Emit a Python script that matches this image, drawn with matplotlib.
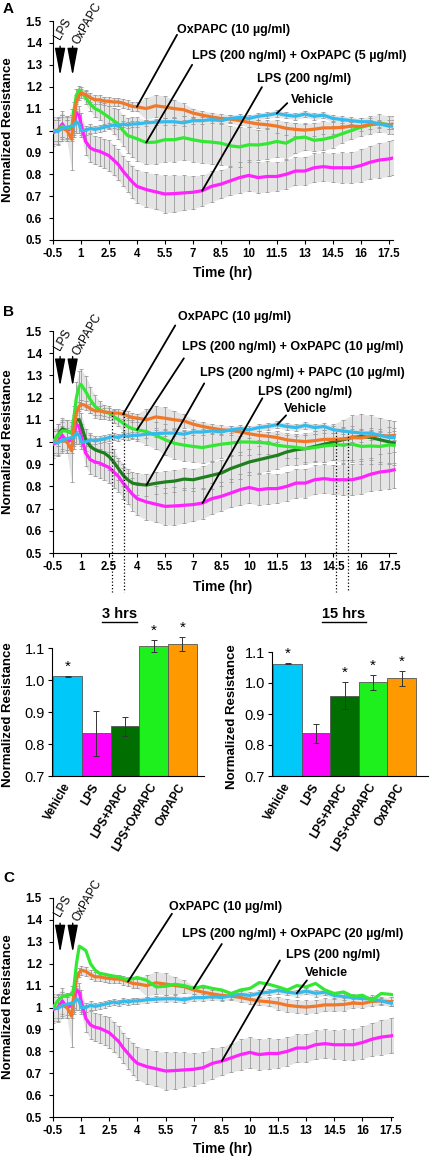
import numpy as np
import matplotlib.pyplot as plt
from matplotlib.patches import ConnectionPatch
from matplotlib.lines import Line2D

plt.rcParams['font.family'] = ['Liberation Sans', 'DejaVu Sans']

# time course (hours after start)
time_hr = [-0.5, -0.25, 0, 0.25, 0.5, 0.6, 0.75, 0.9, 1.0,
           1.25, 1.5, 1.75, 2.0, 2.25, 2.5, 2.75, 3.0, 3.25, 3.5, 3.75, 4.0,
           4.5, 5.0, 5.5, 6.0, 6.5, 7.0, 7.5, 8.0, 8.5, 9.0, 9.5, 10.0, 10.5, 11.0,
           11.5, 12.0, 12.5, 13.0, 13.5, 14.0, 14.5, 15.0, 15.5, 16.0, 16.5, 17.0, 17.5, 17.75]

vehicle = [1.00, 0.995, 1.01, 1.015, 1.02, 1.02, 1.04, 1.03, 1.00,
           1.00, 1.01, 1.005, 1.01, 1.015, 1.02, 1.025, 1.02, 1.03, 1.025, 1.03, 1.03,
           1.035, 1.038, 1.04, 1.04, 1.035, 1.045, 1.045, 1.05, 1.045, 1.055, 1.06, 1.055, 1.065, 1.07,
           1.078, 1.07, 1.065, 1.075, 1.065, 1.07, 1.055, 1.05, 1.045, 1.04, 1.04, 1.03, 1.02, 1.02]
vehicle_err = [0.06, 0.06, 0.06, 0.05, 0.05, 0.05, 0.05, 0.04, 0.03,
               0.02, 0.02, 0.015, 0.015, 0.015, 0.015, 0.015, 0.015, 0.015, 0.015, 0.015, 0.015,
               0.015, 0.015, 0.015, 0.015, 0.015, 0.015, 0.015, 0.015, 0.015, 0.015, 0.015, 0.015, 0.015, 0.015,
               0.015, 0.015, 0.015, 0.015, 0.015, 0.015, 0.015, 0.015, 0.015, 0.015, 0.015, 0.015, 0.015, 0.015]

lps = [0.99, 1.00, 1.03, 1.00, 1.01, 1.03, 1.08, 1.07, 1.03,
       0.95, 0.92, 0.91, 0.905, 0.895, 0.885, 0.865, 0.845, 0.815, 0.79, 0.765, 0.745,
       0.73, 0.72, 0.71, 0.712, 0.715, 0.718, 0.725, 0.745, 0.755, 0.77, 0.785, 0.795, 0.785, 0.79,
       0.79, 0.80, 0.815, 0.815, 0.83, 0.835, 0.83, 0.83, 0.83, 0.84, 0.855, 0.865, 0.87, 0.875]
lps_err = [0.06, 0.06, 0.06, 0.05, 0.06, 0.05, 0.04, 0.04, 0.05,
           0.06, 0.065, 0.065, 0.065, 0.065, 0.07, 0.07, 0.07, 0.07, 0.07, 0.075, 0.075,
           0.08, 0.08, 0.085, 0.085, 0.08, 0.075, 0.07, 0.07, 0.065, 0.065, 0.07, 0.07, 0.07, 0.07,
           0.065, 0.065, 0.065, 0.065, 0.065, 0.065, 0.065, 0.07, 0.07, 0.075, 0.075, 0.08, 0.08, 0.08]

oxpapc = [1.00, 1.00, 1.01, 1.00, 0.96, 1.05, 1.13, 1.16, 1.17,
          1.165, 1.15, 1.14, 1.14, 1.135, 1.133, 1.13, 1.13, 1.125, 1.118, 1.11, 1.108,
          1.10, 1.113, 1.107, 1.10, 1.095, 1.08, 1.07, 1.062, 1.055, 1.052, 1.046, 1.037, 1.03, 1.026,
          1.02, 1.01, 1.005, 1.002, 1.006, 1.012, 1.012, 1.014, 1.02, 1.018, 1.028, 1.03, 1.026, 1.03]
oxpapc_err = [0.05, 0.05, 0.05, 0.05, 0.14, 0.05, 0.03, 0.02, 0.02,
              0.02, 0.02, 0.02, 0.02, 0.02, 0.02, 0.02, 0.02, 0.02, 0.02, 0.02, 0.02,
              0.05, 0.05, 0.05, 0.04, 0.03, 0.02, 0.02, 0.02, 0.02, 0.02, 0.02, 0.02, 0.02, 0.02,
              0.03, 0.03, 0.03, 0.03, 0.03, 0.03, 0.03, 0.03, 0.02, 0.02, 0.02, 0.02, 0.02, 0.02]

lps_ox5 = [1.00, 1.00, 1.02, 1.01, 1.01, 1.08, 1.16, 1.185, 1.18,
           1.15, 1.12, 1.10, 1.09, 1.075, 1.06, 1.045, 1.03, 1.00, 0.977, 0.97, 0.962,
           0.945, 0.947, 0.958, 0.958, 0.967, 0.958, 0.95, 0.947, 0.942, 0.93, 0.925, 0.935, 0.934, 0.94,
           0.95, 0.942, 0.965, 0.97, 0.955, 0.96, 0.97, 0.985, 1.00, 1.015, 1.025, 1.034, 1.026, 1.026]
lps_ox5_err = [0.05, 0.05, 0.05, 0.05, 0.05, 0.05, 0.03, 0.02, 0.02,
               0.03, 0.03, 0.04, 0.04, 0.05, 0.05, 0.06, 0.07, 0.07, 0.08, 0.09, 0.10,
               0.10, 0.10, 0.10, 0.10, 0.10, 0.10, 0.10, 0.10, 0.10, 0.09, 0.09, 0.08, 0.07, 0.07,
               0.07, 0.07, 0.07, 0.06, 0.05, 0.05, 0.05, 0.04, 0.04, 0.04, 0.04, 0.04, 0.04, 0.04]

lps_ox10 = [1.00, 1.03, 1.05, 1.05, 1.04, 1.10, 1.20, 1.25, 1.26,
            1.227, 1.19, 1.16, 1.145, 1.135, 1.13, 1.115, 1.10, 1.085, 1.07, 1.06, 1.055,
            1.047, 1.03, 1.01, 0.994, 0.986, 0.98, 0.975, 0.983, 0.99, 0.995, 1.00, 1.00, 0.998, 0.995,
            0.985, 0.98, 0.976, 0.97, 0.975, 0.982, 0.987, 0.987, 0.99, 0.98, 0.982, 0.98, 0.987, 0.985]
lps_ox10_err = [0.05, 0.05, 0.05, 0.05, 0.05, 0.06, 0.07, 0.07, 0.07,
                0.07, 0.06, 0.05, 0.04, 0.03, 0.03, 0.03, 0.03, 0.04, 0.04, 0.04, 0.05,
                0.06, 0.06, 0.07, 0.07, 0.07, 0.07, 0.07, 0.07, 0.06, 0.06, 0.06, 0.06, 0.05, 0.05,
                0.05, 0.05, 0.05, 0.06, 0.06, 0.07, 0.07, 0.08, 0.08, 0.08, 0.08, 0.08, 0.08, 0.08]

lps_papc = [1.00, 1.03, 1.06, 1.05, 1.04, 1.07, 1.10, 1.10, 1.08,
            1.01, 0.98, 0.965, 0.957, 0.95, 0.934, 0.91, 0.88, 0.85, 0.83, 0.815, 0.81,
            0.806, 0.814, 0.82, 0.824, 0.833, 0.83, 0.84, 0.85, 0.86, 0.88, 0.895, 0.91, 0.92, 0.93,
            0.94, 0.955, 0.965, 0.97, 0.98, 0.99, 1.00, 1.01, 1.02, 1.025, 1.02, 1.01, 1.00, 0.995]
lps_papc_err = [0.05, 0.05, 0.05, 0.05, 0.05, 0.05, 0.05, 0.05, 0.05,
                0.05, 0.06, 0.06, 0.06, 0.06, 0.06, 0.06, 0.05, 0.05, 0.05, 0.05, 0.05,
                0.05, 0.05, 0.05, 0.05, 0.05, 0.05, 0.05, 0.06, 0.06, 0.06, 0.06, 0.06, 0.06, 0.06,
                0.06, 0.06, 0.07, 0.07, 0.07, 0.08, 0.08, 0.09, 0.10, 0.10, 0.10, 0.10, 0.10, 0.10]

lps_ox20 = [1.00, 1.03, 1.05, 1.055, 1.06, 1.08, 1.20, 1.28, 1.275,
            1.26, 1.20, 1.17, 1.155, 1.152, 1.147, 1.143, 1.14, 1.132, 1.127, 1.132, 1.137,
            1.124, 1.094, 1.097, 1.106, 1.10, 1.087, 1.097, 1.087, 1.08, 1.064, 1.08, 1.087, 1.114, 1.106,
            1.094, 1.08, 1.10, 1.094, 1.11, 1.08, 1.064, 1.071, 1.05, 1.056, 1.033, 1.064, 1.06, 1.056]

# bar panels (3 hrs and 15 hrs)
groups = ['Vehicle', 'LPS', 'LPS+PAPC', 'LPS+OxPAPC', 'OxPAPC']
bar_3h = [1.011, 0.833, 0.855, 1.105, 1.112]
bar_3h_err = [0.001, 0.069, 0.029, 0.019, 0.022]
star_3h = [True, False, False, True, True]
bar_15h = [1.062, 0.838, 0.959, 1.002, 1.015]
bar_15h_err = [0.001, 0.03, 0.043, 0.024, 0.024]
star_15h = [True, False, True, True, True]
bar_colors = ['#00C8F8', '#FF00FF', '#006E00', '#1EF01E', '#FF9900']

event_times = [-0.12, 0.55]
event_labels = ['LPS', 'OxPAPC']

c_veh, c_lps, c_ox = '#33BBEE', '#FF22FF', '#F07828'
c_lime, c_dark = '#33E833', '#1F7F1F'

W, H = 430, 1158
fig = plt.figure(figsize=(W / 100, H / 100), dpi=100)


def px_axes(left, top, right, bottom):
    return fig.add_axes([left / W, 1 - bottom / H, (right - left) / W, (bottom - top) / H])


def style_time_axes(ax, xmax):
    ax.set_xlim(-0.5, xmax)
    ax.set_ylim(0.5, 1.5)
    for s in ['top', 'right']:
        ax.spines[s].set_visible(False)
    for s in ['left', 'bottom']:
        ax.spines[s].set_linewidth(0.8)
    xt = np.arange(-0.5, 18, 1.5)
    ax.set_xticks(xt)
    ax.set_xticklabels(['%g' % v for v in xt])
    yt = np.round(np.arange(0.5, 1.51, 0.1), 1)
    ax.set_yticks(yt)
    ax.set_yticklabels(['%g' % v for v in yt])
    ax.tick_params(length=3, width=0.8, labelsize=8.3, pad=3)
    for lab in ax.get_xticklabels() + ax.get_yticklabels():
        lab.set_fontweight('bold')
    ax.tick_params(axis='y', pad=5)


def draw_course(ax, series, notes):
    t = np.array(time_hr)
    for vals, err, col in series:
        if err is None:
            continue
        v = np.array(vals)
        e = np.array(err)
        ax.fill_between(t, v - e, v + e, color='#e4e4e4', lw=0, zorder=1)
        eb = ax.errorbar(t, v, yerr=e, fmt='none', ecolor='#9a9a9a',
                         elinewidth=0.6, capsize=1.4, capthick=0.6, zorder=2)
        for cap in eb[1]:
            cap.set_color('#505050')
    for vals, err, col in series:
        ax.plot(t, vals, color=col, lw=2.3, zorder=3)
    for text, txt_xy, start, vals, when in notes:
        i = time_hr.index(when)
        ax.annotate('', xy=(time_hr[i], vals[i]), xytext=start,
                    arrowprops=dict(arrowstyle='-', color='black', lw=1.3,
                                    shrinkA=0, shrinkB=0),
                    annotation_clip=False, zorder=4)
        ax.text(txt_xy[0], txt_xy[1], text, ha='center', va='center',
                fontsize=9, fontweight='bold', clip_on=False, zorder=5)
    for et, lab, lx, ly in zip(event_times, event_labels, [0.02, 1.02], [1.405, 1.382]):
        ax.annotate('', xy=(et, 1.25), xytext=(et, 1.385),
                    arrowprops=dict(arrowstyle='-|>,head_length=1.7,head_width=0.32',
                                    color='black', lw=1.0, shrinkA=0, shrinkB=0),
                    annotation_clip=False)
        ax.text(lx, ly, lab, rotation=60, rotation_mode='anchor', ha='left',
                va='bottom', fontsize=8.5, clip_on=False)


# ---------------- panel A ----------------
axA = px_axes(53, 21, 393, 240)
style_time_axes(axA, 17.73)
draw_course(axA,
            [(lps, lps_err, c_lps), (lps_ox5, lps_ox5_err, c_lime),
             (oxpapc, oxpapc_err, c_ox), (vehicle, vehicle_err, c_veh)],
            [('OxPAPC (10 µg/ml)', (9.2, 1.46), (6.15, 1.437), oxpapc, 4.0),
             ('LPS (200 ng/ml) + OxPAPC (5 µg/ml)', (12.7, 1.338), (6.96, 1.30), lps_ox5, 4.5),
             ('LPS (200 ng/ml)', (12.95, 1.235), (10.7, 1.198), lps, 7.5),
             ('Vehicle', (13.4, 1.14), (12.06, 1.125), vehicle, 11.5)])

# ---------------- panel B ----------------
axB = px_axes(53, 331, 396, 553)
style_time_axes(axB, 17.85)
draw_course(axB,
            [(lps, lps_err, c_lps), (lps_papc, lps_papc_err, c_dark),
             (lps_ox10, lps_ox10_err, c_lime), (oxpapc, oxpapc_err, c_ox),
             (vehicle, vehicle_err, c_veh)],
            [('OxPAPC (10 µg/ml)', (9.2, 1.563), (6.04, 1.525), oxpapc, 3.25),
             ('LPS (200 ng/ml) + OxPAPC (10 µg/ml)', (12.3, 1.43), (6.5, 1.377), lps_ox10, 4.0),
             ('LPS (200 ng/ml) + PAPC (10 µg/ml)', (12.86, 1.312), (7.59, 1.264), lps_papc, 4.5),
             ('LPS (200 ng/ml)', (13.0, 1.227), (10.7, 1.197), lps, 7.5),
             ('Vehicle', (13.0, 1.147), (11.97, 1.12), vehicle, 11.5)])

# ---------------- panel C ----------------
axC = px_axes(53, 898, 393, 1117)
style_time_axes(axC, 17.63)
draw_course(axC,
            [(lps, lps_err, c_lps), (oxpapc, oxpapc_err, c_ox),
             (vehicle, vehicle_err, c_veh), (lps_ox20, None, c_lime)],
            [('OxPAPC (10 µg/ml)', (8.68, 1.46), (5.84, 1.428), oxpapc, 3.5),
             ('LPS (200 ng/ml) + OxPAPC (20 µg/ml)', (12.3, 1.337), (8.5, 1.29), lps_ox20, 7.0),
             ('LPS (200 ng/ml)', (14.45, 1.238), (11.6, 1.215), lps, 8.5),
             ('Vehicle', (14.1, 1.158), (13.04, 1.124), vehicle, 12.5)])


# ---------------- bar panels ----------------
def draw_bars(ax, vals, errs, stars, xmax):
    x = np.arange(len(groups))
    ax.bar(x, np.array(vals) - 0.7, bottom=0.7, width=1.0, color=bar_colors,
           edgecolor='#555555', linewidth=0.6, clip_on=False, zorder=2)
    ax.errorbar(x, vals, yerr=errs, fmt='none', ecolor='#333333', elinewidth=0.7,
                capsize=2.2, capthick=0.7, clip_on=False, zorder=3)
    for xi, v, e, s in zip(x, vals, errs, stars):
        if s:
            ax.text(xi, v + e + 0.03, '*', ha='center', va='center', fontsize=11,
                    clip_on=False)
    ax.set_xlim(-0.545, xmax)
    ax.set_ylim(0.7, 1.1)
    for s in ['top', 'right']:
        ax.spines[s].set_visible(False)
    ax.spines['left'].set_linewidth(0.8)
    ax.spines['bottom'].set_linewidth(0.8)
    ax.set_yticks([0.7, 0.8, 0.9, 1.0, 1.1])
    ax.set_yticklabels(['%.1f' % v for v in [0.7, 0.8, 0.9, 1.0, 1.1]], fontsize=10.5)
    ax.tick_params(axis='y', length=3, width=0.8, pad=2)
    ax.set_xticks(x)
    ax.set_xticklabels(groups, rotation=60, ha='right', va='center',
                       rotation_mode='anchor', fontsize=8.5, fontweight='bold')
    ax.tick_params(axis='x', length=0, pad=6)


axL = px_axes(52, 648, 204, 776)
draw_bars(axL, bar_3h, bar_3h_err, star_3h, 4.755)
axR = px_axes(272, 652, 428, 776)
draw_bars(axR, bar_15h, bar_15h_err, star_15h, 4.93)

# zoom connectors from panel B to the bar panels
windows = [(2.66, 1.134), (3.30, 1.13), (14.66, 1.046), (15.3, 1.04)]
targets = [(39, 630), (199, 632), (262, 633), (422, 633)]
v_bottom = 0.5 - (592 - 553) / 222
for (tw, vtop), (px, py) in zip(windows, targets):
    axB.plot([tw, tw], [vtop, v_bottom], ls=':', color='black', lw=0.9,
             clip_on=False, zorder=4)
    con = ConnectionPatch(xyA=(tw, v_bottom), coordsA='data', axesA=axB,
                          xyB=(px / W, 1 - py / H), coordsB='figure fraction',
                          ls=':', color='black', lw=0.9)
    fig.add_artist(con)

# text in figure coordinates
for lab, y in [('A', 9), ('B', 312), ('C', 878)]:
    fig.text(3 / W, 1 - y / H, lab, fontsize=11, fontweight='bold', va='center')
for y in [130, 442, 1007]:
    fig.text(8 / W, 1 - y / H, 'Normalized Resistance', rotation=90, ha='center',
             va='center', fontsize=9.5, fontweight='bold')
for x, y in [(8, 715), (232, 717)]:
    fig.text(x / W, 1 - y / H, 'Normalized Resistance', rotation=90, ha='center',
             va='center', fontsize=9.5, fontweight='bold')
for y in [273, 587, 1149]:
    fig.text(223 / W, 1 - y / H, 'Time (hr)', ha='center', va='center',
             fontsize=10, fontweight='bold')

hdr = [fig.text(119.5 / W, 1 - 614 / H, '3 hrs', ha='center', va='center',
                fontsize=10.5, fontweight='bold'),
       fig.text(344 / W, 1 - 614 / H, '15 hrs', ha='center', va='center',
                fontsize=10.5, fontweight='bold')]
fig.canvas.draw()
rend = fig.canvas.get_renderer()
for t in hdr:
    bb = t.get_window_extent(rend)
    yl = (bb.y0 - 1) / H
    fig.add_artist(Line2D([bb.x0 / W, bb.x1 / W], [yl, yl], color='black', lw=1.0))

fig.savefig('out.png', dpi=100)
